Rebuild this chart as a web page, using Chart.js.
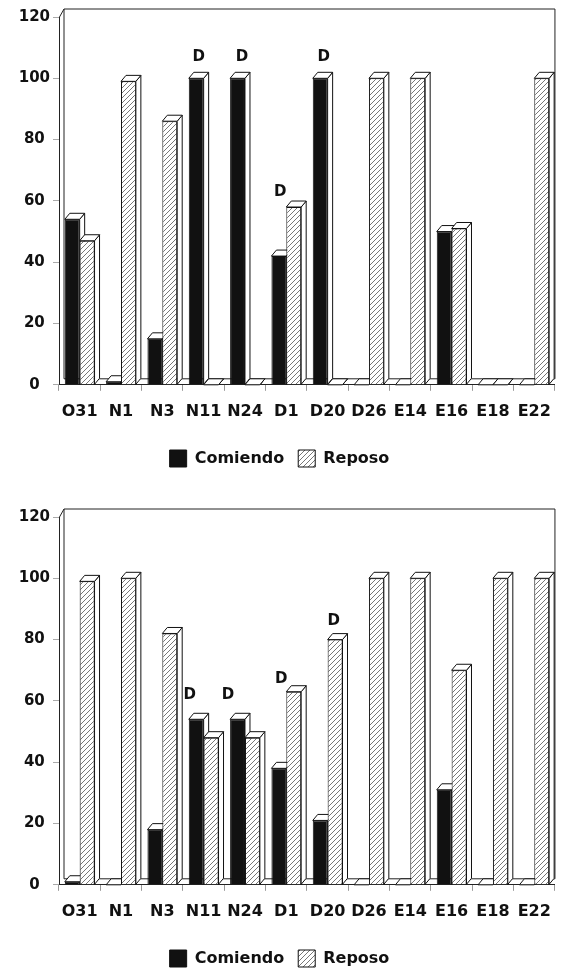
<!DOCTYPE html>
<html>
<head>
<meta charset="utf-8">
<script src="https://cdn.jsdelivr.net/npm/chart.js@4.4.0/dist/chart.umd.min.js"></script>
<style>
    html, body { margin: 0; padding: 0; background: #fff; overflow: hidden; }
    .caja { position: relative; width: 562px; height: 500px; }
</style>
</head>
<body>
<div class="caja"><canvas id="grafico1"></canvas></div>
<div class="caja"><canvas id="grafico2"></canvas></div>
<script>
// Datos (porcentaje de observaciones)
const categorias = ['O31', 'N1', 'N3', 'N11', 'N24', 'D1', 'D20', 'D26', 'E14', 'E16', 'E18', 'E22'];

const comiendo1 = [54, 1, 15, 100, 100, 42, 100, 0, 0, 50, 0, 0];
const reposo1   = [47, 99, 86, 0, 0, 58, 0, 100, 100, 51, 0, 100];

const comiendo2 = [1, 0, 18, 54, 54, 38, 21, 0, 0, 31, 0, 0];
const reposo2   = [99, 100, 82, 48, 48, 63, 80, 100, 100, 70, 100, 100];

// Marcas "D" sobre algunas fechas (categoría, altura en el eje)
const marcas1Cat = ['N11', 'N24', 'D1', 'D20'];
const marcas1Val = [107, 107, 63, 107];
const marcas2Cat = ['N11', 'N24', 'D1', 'D20'];
const marcas2Val = [62, 62, 67, 86];

const ticksY = [0, 20, 40, 60, 80, 100, 120];

const FUENTE = '"DejaVu Sans", sans-serif';
const PROF_X = 5, PROF_Y = 6;

// Patrón rayado para "Reposo"
function crearRayado() {
    const c = document.createElement('canvas');
    c.width = 5; c.height = 5;
    const g = c.getContext('2d');
    g.fillStyle = '#fff';
    g.fillRect(0, 0, 5, 5);
    g.strokeStyle = '#777';
    g.lineWidth = 1;
    g.beginPath();
    g.moveTo(-1, 6); g.lineTo(6, -1);
    g.moveTo(-1, 1); g.lineTo(1, -1);
    g.moveTo(4, 6); g.lineTo(6, 4);
    g.stroke();
    return g.createPattern(c, 'repeat');
}
const rayado = crearRayado();

function caras3D(ctx, bar) {
    const p = bar.getProps(['x', 'y', 'base', 'width'], true);
    const l = p.x - p.width / 2, r = p.x + p.width / 2;
    ctx.save();
    ctx.fillStyle = '#fff';
    ctx.strokeStyle = '#111';
    ctx.lineWidth = 1;
    ctx.beginPath();
    ctx.moveTo(r, p.y);
    ctx.lineTo(r + PROF_X, p.y - PROF_Y);
    ctx.lineTo(r + PROF_X, p.base - PROF_Y);
    ctx.lineTo(r, p.base);
    ctx.closePath();
    ctx.fill(); ctx.stroke();
    ctx.beginPath();
    ctx.moveTo(l, p.y);
    ctx.lineTo(l + PROF_X, p.y - PROF_Y);
    ctx.lineTo(r + PROF_X, p.y - PROF_Y);
    ctx.lineTo(r, p.y);
    ctx.closePath();
    ctx.fill(); ctx.stroke();
    ctx.restore();
}

// Paredes del fondo + caras laterales de las barras
const plugin3D = {
    id: 'efecto3D',
    beforeDatasetsDraw(chart) {
        const ctx = chart.ctx;
        const a = chart.chartArea;
        ctx.save();
        ctx.strokeStyle = '#222';
        ctx.lineWidth = 1;
        ctx.beginPath();
        ctx.moveTo(a.left + 0.5, a.top);
        ctx.lineTo(a.left + PROF_X, a.top - PROF_Y - 2);
        ctx.lineTo(a.right, a.top - PROF_Y - 2);
        ctx.lineTo(a.right, a.bottom - PROF_Y);
        ctx.moveTo(a.left + PROF_X, a.top - PROF_Y - 2);
        ctx.lineTo(a.left + PROF_X, a.bottom - PROF_Y);
        ctx.lineTo(a.right, a.bottom - PROF_Y);
        ctx.stroke();
        ctx.restore();
        chart.getDatasetMeta(0).data.forEach(b => caras3D(ctx, b));
    },
    afterDatasetsDraw(chart, args, opts) {
        const ctx = chart.ctx;
        chart.getDatasetMeta(1).data.forEach(b => caras3D(ctx, b));
        // Letras "D"
        const xs = chart.scales.x, ys = chart.scales.y;
        ctx.save();
        ctx.fillStyle = '#111';
        ctx.font = 'bold 15px ' + FUENTE;
        ctx.textAlign = 'center';
        ctx.textBaseline = 'middle';
        opts.cats.forEach((c, i) => {
            const x = xs.getPixelForValue(categorias.indexOf(c)) + opts.dx[i];
            ctx.fillText('D', x, ys.getPixelForValue(opts.vals[i]));
        });
        ctx.restore();
    }
};

function crearGrafico(id, comiendo, reposo, cats, vals, dx) {
    const ctx = document.getElementById(id).getContext('2d');
    return new Chart(ctx, {
        type: 'bar',
        data: {
            labels: categorias,
            datasets: [{
                label: 'Comiendo',
                data: comiendo,
                backgroundColor: '#111',
                borderColor: '#111',
                borderWidth: 1,
                categoryPercentage: 0.72,
                barPercentage: 1
            }, {
                label: 'Reposo',
                data: reposo,
                backgroundColor: rayado,
                borderColor: '#111',
                borderWidth: 1,
                categoryPercentage: 0.72,
                barPercentage: 1
            }]
        },
        options: {
            responsive: true,
            maintainAspectRatio: false,
            animation: false,
            layout: { padding: { top: 17, right: 3, bottom: 23, left: 0 } },
            scales: {
                x: {
                    afterFit: (s) => { s.height += 4; },
                    grid: { display: true, drawOnChartArea: false, tickLength: 6, color: '#999' },
                    border: { display: true, color: '#222' },
                    ticks: {
                        autoSkip: false, maxRotation: 0, padding: 11, color: '#111',
                        font: { family: FUENTE, size: 16, weight: 'bold' }
                    }
                },
                y: {
                    min: 0, max: 120,
                    afterBuildTicks: (s) => { s.ticks = ticksY.map(v => ({ value: v })); },
                    afterFit: (s) => { s.width = 59; },
                    grid: { display: true, drawOnChartArea: false, tickLength: 6, color: '#aaa' },
                    border: { display: true, color: '#222' },
                    ticks: {
                        crossAlign: 'center', padding: 3, color: '#111',
                        font: { family: FUENTE, size: 15, weight: 'bold' }
                    }
                }
            },
            plugins: {
                legend: {
                    position: 'bottom',
                    labels: {
                        boxWidth: 17, boxHeight: 17, padding: 14, color: '#111',
                        font: { family: FUENTE, size: 16, weight: 'bold' }
                    }
                },
                tooltip: { enabled: false },
                efecto3D: { cats: cats, vals: vals, dx: dx }
            }
        },
        plugins: [plugin3D]
    });
}

crearGrafico('grafico1', comiendo1, reposo1, marcas1Cat, marcas1Val, [-5, -3, -6, -4]);
crearGrafico('grafico2', comiendo2, reposo2, marcas2Cat, marcas2Val, [-14, -17, -5, 6]);
</script>
</body>
</html>
